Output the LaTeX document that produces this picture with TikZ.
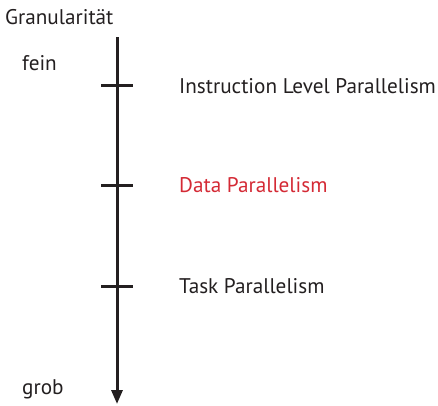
\documentclass[tikz,border=0pt]{standalone}
\usepackage{fontspec}
\setmainfont{PT Sans}
\usetikzlibrary{arrows.meta}
\definecolor{datared}{RGB}{212,42,53}
\definecolor{ink}{RGB}{35,31,32}

\begin{document}
\begin{tikzpicture}[x=1pt,y=-1pt]
\tikzstyle{level}=[anchor=base west,inner sep=0pt,text=ink,font=\fontsize{21.2}{25}\selectfont]
\tikzstyle{tick}=[draw=ink,line width=3pt]
\useasboundingbox (0,0) rectangle (438,405);
\coordinate (top) at (117,37);
\coordinate (bottom) at (117,404);
\draw [ink, line width=3pt, -{Triangle[length=14pt,width=11pt]}] (top) -- (bottom);
\node [level] (gran) at (5,24) {Granularität};
\node [level] (fein) at (22,70) {fein};
\node [level] (grob) at (22,394) {grob};
\foreach \y/\name in {85/ilp,185/data,286/task}
  \draw [tick] (101,\y) coordinate (\name) -- (133,\y);
\node [level] (ilptext) at (179,93) {Instruction Level Parallelism};
\node [level, text=datared] (datatext) at (179,192) {Data Parallelism};
\node [level] (tasktext) at (179,293) {Task Parallelism};
\end{tikzpicture}
\end{document}
